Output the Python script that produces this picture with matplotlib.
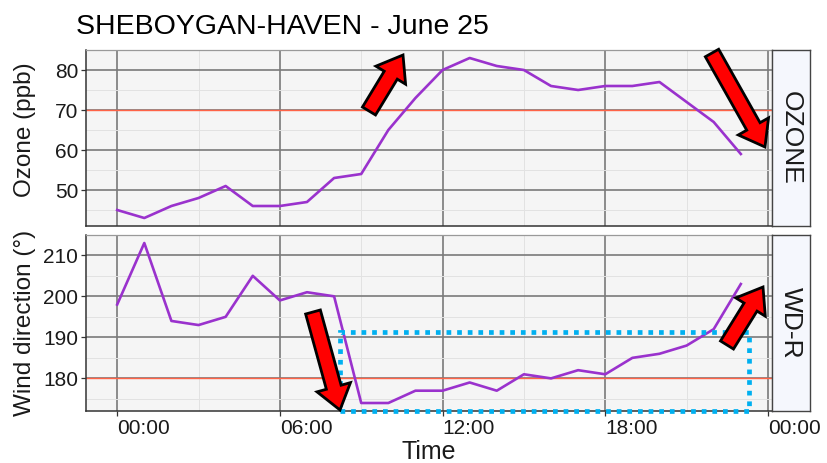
import matplotlib
matplotlib.use("Agg")
import matplotlib.pyplot as plt
from matplotlib.patches import FancyArrowPatch, Rectangle, ArrowStyle
from matplotlib.ticker import MultipleLocator
from matplotlib.transforms import Affine2D

# Hourly readings (hour of day)
hours = list(range(24))
ozone = [45, 43, 46, 48, 51, 46, 46, 47, 53, 54, 65, 73,
         80, 83, 81, 80, 76, 75, 76, 76, 77, 72, 67, 59]
wind_dir = [198, 213, 194, 193, 195, 205, 199, 201, 200, 174, 174, 177,
            177, 179, 177, 181, 180, 182, 181, 185, 186, 188, 192, 203]

x_ticks = [0, 6, 12, 18, 24]
x_tick_labels = ["00:00", "06:00", "12:00", "18:00", "00:00"]
panel_names = ["OZONE", "WD-R"]
y_titles = ["Ozone (ppb)", "Wind direction (°)"]
thresholds = [70, 180]
title = "SHEBOYGAN-HAVEN - June 25"

# highlighted lake-breeze window on the wind panel (hours, degrees)
window_hours = (8.2, 23.3)
window_top = 191.4

plt.rcParams['font.family'] = ['Liberation Sans', 'DejaVu Sans']

W, H = 828, 463
fig = plt.figure(figsize=(W / 100, H / 100), dpi=100)
fig.patch.set_facecolor("white")


def box(x0, y0, x1, y1):
    return [x0 / W, 1 - y1 / H, (x1 - x0) / W, (y1 - y0) / H]


# pixel-space transform for free annotations (origin at top-left)
px = Affine2D().scale(1 / W, -1 / H).translate(0, 1) + fig.transFigure

LINE = "#9A32CD"
REF = "#FF6347"
TXT = "#1A1A1A"

panel_rows = [(50, 226), (235, 411)]
label_y = [0.55, 0.5]
series = [ozone, wind_dir]
axes = []
x_pad = 0.05 * (max(hours) - min(hours))
for i, (vals, (y0, y1)) in enumerate(zip(series, panel_rows)):
    ax = fig.add_axes(box(86, y0, 772, y1))
    axes.append(ax)
    ax.set_facecolor("#F5F5F5")
    ax.set_axisbelow(True)
    lo, hi = min(vals), max(vals)
    pad = 0.05 * (hi - lo)
    ax.set_ylim(lo - pad, hi + pad)
    ax.set_xlim(min(hours) - x_pad, max(hours) + x_pad)
    ax.yaxis.set_major_locator(MultipleLocator(10))
    ax.yaxis.set_minor_locator(MultipleLocator(5))
    ax.set_xticks(x_ticks)
    ax.xaxis.set_minor_locator(MultipleLocator(3))
    ax.grid(which="major", color="#7A7A7A", lw=1.2)
    ax.grid(which="minor", color="#E2E2E2", lw=0.7)
    ax.axhline(thresholds[i], color=REF, lw=1.0, zorder=2)
    ax.plot(hours, vals, color=LINE, lw=1.9, zorder=3, solid_joinstyle="round")
    for s in ["top", "right"]:
        ax.spines[s].set_color("#9A9A9A")
        ax.spines[s].set_linewidth(0.9)
    for s in ["left", "bottom"]:
        ax.spines[s].set_color("#333333")
        ax.spines[s].set_linewidth(1.1)
    ax.tick_params(which="major", length=3.5, width=0.9, color="#333333",
                   labelsize=15, labelcolor=TXT, pad=2)
    ax.tick_params(which="minor", length=0)
    ax.set_ylabel(y_titles[i], fontsize=17.5, color=TXT)
    ax.yaxis.set_label_coords(-0.073, label_y[i])
    if i == 0:
        ax.tick_params(axis="x", which="major", length=0, labelbottom=False)
    else:
        ax.set_xticklabels(x_tick_labels)
        for lbl in ax.get_xticklabels():
            lbl.set_ha("left")
        ax.set_xlabel("Time", fontsize=18, color=TXT, labelpad=2)

    # facet strip on the right
    sx = fig.add_axes(box(772, y0, 810, y1))
    sx.set_facecolor("#F5F7FD")
    sx.set_xticks([])
    sx.set_yticks([])
    for s in sx.spines.values():
        s.set_color("#444444")
        s.set_linewidth(1.0)
    sx.text(0.5, 0.5, panel_names[i], rotation=-90, ha="center", va="center",
            fontsize=19, color=TXT, transform=sx.transAxes)

fig.text(76 / W, 1 - 34 / H, title, fontsize=20.5, color="black",
         ha="left", va="baseline")

# highlighted window
ax_w = axes[1]
ylo = ax_w.get_ylim()[0]
ax_w.add_patch(Rectangle((window_hours[0], ylo), window_hours[1] - window_hours[0],
                         window_top - ylo, fill=False, ec="#00B0F0", lw=3.4,
                         ls=(0, (1, 1.25)), clip_on=False, zorder=5))

# call-out arrows (pixel coordinates: tail -> tip)
arrow_style = ArrowStyle.Simple(head_length=17, head_width=25, tail_width=11)
callouts = [((369, 111), (403, 55)),
            ((712, 53), (765, 147)),
            ((313, 312), (340, 410)),
            ((727, 345), (763, 287))]
for tail, tip in callouts:
    fig.add_artist(FancyArrowPatch(tail, tip, transform=px, arrowstyle=arrow_style,
                                   mutation_scale=1, fc="#FF0000", ec="black",
                                   lw=2.0, shrinkA=0, shrinkB=0,
                                   joinstyle="miter", zorder=10))

fig.savefig("out.png", dpi=100)
